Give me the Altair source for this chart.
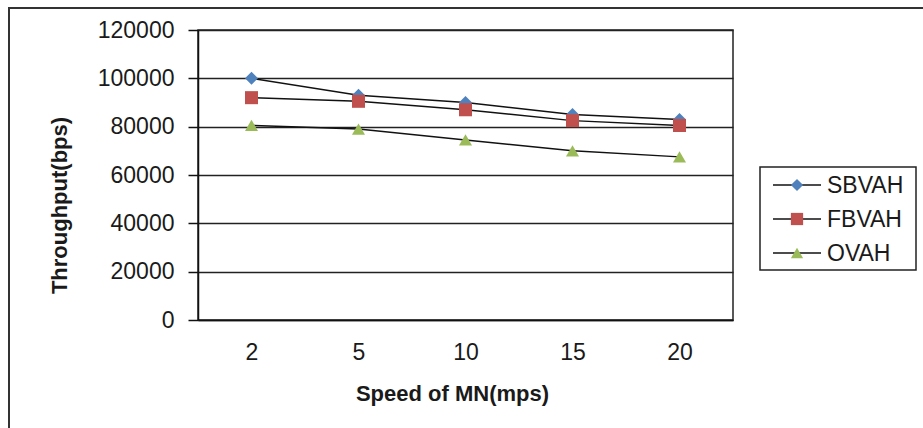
import altair as alt
import pandas as pd

# Throughput (bps) of each handoff scheme against mobile node speed (m/s)
speeds = ["2", "5", "10", "15", "20"]
series = ["SBVAH", "FBVAH", "OVAH"]
sbvah = [100000, 93000, 90000, 85000, 83000]
fbvah = [92000, 90500, 87000, 82500, 80500]
ovah = [80500, 79000, 74500, 70000, 67500]

colors = ["#4F81BD", "#C0504D", "#9BBB59"]
shapes = ["diamond", "square", "triangle-up"]

rows = []
for name, vals in zip(series, [sbvah, fbvah, ovah]):
    for s, v in zip(speeds, vals):
        rows.append({"speed": s, "series": name, "value": v})
df = pd.DataFrame(rows)
legend_df = pd.DataFrame({"series": series})

ink = "#1a1a1a"
x_enc = alt.X(
    "speed:O",
    sort=speeds,
    scale=alt.Scale(type="point", padding=0.5),
    axis=alt.Axis(
        title="Speed of MN(mps)",
        titleFontSize=22,
        titleFontWeight="bold",
        titleColor=ink,
        titleX=254,
        titleY=80,
        titleAlign="center",
        titleBaseline="alphabetic",
        labelAngle=0,
        labelFontSize=23,
        labelColor=ink,
        labelPadding=21,
        ticks=False,
        domainColor="#111",
        domainWidth=1.5,
        grid=False,
    ),
)
y_scale = alt.Scale(domain=[0, 120000], nice=False)
y_enc = alt.Y(
    "value:Q",
    scale=y_scale,
    axis=alt.Axis(
        title="Throughput(bps)",
        titleFontSize=22,
        titleFontWeight="bold",
        titleColor=ink,
        titleAngle=270,
        titleX=-139,
        titleY=175,
        titleAlign="center",
        titleBaseline="middle",
        values=[0, 20000, 40000, 60000, 80000, 100000, 120000],
        format="d",
        labelFontSize=23,
        labelColor=ink,
        labelPadding=14,
        tickSize=10,
        tickColor="#111",
        tickWidth=1.5,
        domainColor="#111",
        domainWidth=1.5,
        grid=True,
        gridColor="#222",
        gridWidth=1.5,
    ),
)
color_scale = alt.Scale(domain=series, range=colors)
shape_scale = alt.Scale(domain=series, range=shapes)

# outer frame of the figure
frame = alt.Chart(pd.DataFrame({"f": [0]})).mark_rect(
    fill=None, stroke="#333", strokeWidth=2
).encode(
    x=alt.value(-189), x2=alt.value(745), y=alt.value(-22), y2=alt.value(420)
)

lines = alt.Chart(df).mark_line(color="#111", strokeWidth=1.5).encode(
    x=x_enc, y=y_enc, detail="series:N"
)

points = alt.Chart(df).mark_point(filled=True, size=170, opacity=1).encode(
    x=alt.X("speed:O", sort=speeds, scale=alt.Scale(type="point", padding=0.5), axis=None),
    y=alt.Y("value:Q", scale=y_scale, axis=None),
    color=alt.Color("series:N", scale=color_scale, legend=None),
    shape=alt.Shape("series:N", scale=shape_scale, legend=None),
    order=alt.Order("series_order:Q"),
).transform_calculate(
    series_order="indexof(['SBVAH','FBVAH','OVAH'], datum.series)"
)

# hand-built legend box at the right
leg_y = alt.Y(
    "series:N",
    sort=series,
    scale=alt.Scale(type="point", domain=series, range=[155, 223], padding=0),
    axis=None,
)
leg_box = alt.Chart(pd.DataFrame({"f": [0]})).mark_rect(
    fill="white", stroke="#222", strokeWidth=1.5
).encode(x=alt.value(562), x2=alt.value(718), y=alt.value(137), y2=alt.value(240))

leg_rules = alt.Chart(legend_df).mark_rule(color="#111", strokeWidth=1.5).encode(
    x=alt.value(575), x2=alt.value(623), y=leg_y
)
leg_points = alt.Chart(legend_df).mark_point(filled=True, size=150, opacity=1).encode(
    x=alt.value(599),
    y=leg_y,
    color=alt.Color("series:N", scale=color_scale, legend=None),
    shape=alt.Shape("series:N", scale=shape_scale, legend=None),
)
leg_text = alt.Chart(legend_df).mark_text(
    align="left", baseline="middle", fontSize=23, color=ink, dy=1
).encode(x=alt.value(629), y=leg_y, text="series:N")

chart = (
    alt.layer(frame, lines, points, leg_box, leg_rules, leg_points, leg_text)
    .resolve_scale(y="independent", x="independent")
    .properties(
        width=535,
        height=290,
        autosize=alt.AutoSizeParams(type="none"),
        padding={"left": 198, "top": 30, "right": 190, "bottom": 108},
        background="white",
    )
    .configure(font="Liberation Sans")
    .configure_view(stroke="#222", strokeWidth=1.5)
)

chart.save("out.html", embed_options={"renderer": "svg", "actions": False})
